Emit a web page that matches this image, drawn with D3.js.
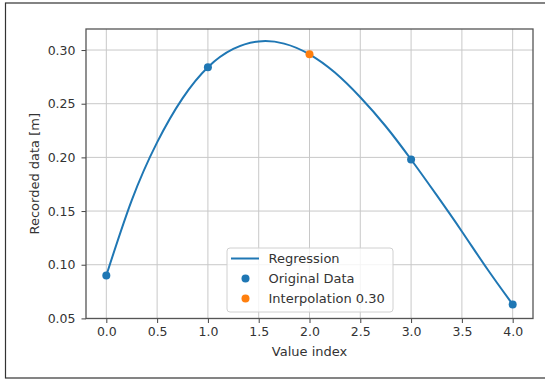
<!DOCTYPE html>
<html>
<head>
<meta charset="utf-8">
<script src="https://cdn.jsdelivr.net/npm/d3@7"></script>
<style>
  html, body { margin: 0; padding: 0; background: #fff; }
  svg { display: block; }
  text { font-family: "DejaVu Sans", sans-serif; }
</style>
</head>
<body>
<script>
// ---- data ----
const originalX = [0, 1, 3, 4];
const originalY = [0.090, 0.284, 0.198, 0.063];
const interpX = [2];
const interpY = [0.296];
const regressionX = [0, 0.25, 0.5, 0.75, 1.0, 1.25, 1.5, 1.75, 2.0, 2.25, 2.5, 2.75, 3.0, 3.25, 3.5, 3.75, 4.0];
const regressionY = [0.090, 0.160, 0.214, 0.255, 0.284, 0.301, 0.308, 0.306, 0.296, 0.279, 0.256, 0.229, 0.198, 0.165, 0.131, 0.096, 0.063];
const xTicks = [0, 0.5, 1, 1.5, 2, 2.5, 3, 3.5, 4];
const yTicks = [0.05, 0.10, 0.15, 0.20, 0.25, 0.30];
const legendLabels = ["Regression", "Original Data", "Interpolation 0.30"];
const xLabel = "Value index";
const yLabel = "Recorded data [m]";

const W = 545, H = 379;
const blue = "#1f77b4", orange = "#ff7f0e";
const plot = { left: 86, right: 533, top: 29, bottom: 318.5 };

const svg = d3.select("body").append("svg").attr("width", W).attr("height", H);

// outer frame
svg.append("rect").attr("x", 5.5).attr("y", 3).attr("width", 560).attr("height", 375)
  .attr("fill", "#fff").attr("stroke", "#333").attr("stroke-width", 1.2);

const x = d3.scaleLinear().domain([-0.2, 4.2]).range([plot.left, plot.right]);
const y = d3.scaleLinear().domain([0.0499, 0.3196]).range([plot.bottom, plot.top]);

// grid
const grid = svg.append("g");
grid.selectAll("line.gx").data(xTicks).join("line")
  .attr("x1", d => x(d)).attr("x2", d => x(d)).attr("y1", plot.top).attr("y2", plot.bottom)
  .attr("stroke", "#c8c8c8").attr("stroke-width", 1);
grid.selectAll("line.gy").data(yTicks).join("line")
  .attr("y1", d => y(d)).attr("y2", d => y(d)).attr("x1", plot.left).attr("x2", plot.right)
  .attr("stroke", "#c8c8c8").attr("stroke-width", 1);

// axes
const xAxis = d3.axisBottom(x).tickValues(xTicks).tickFormat(d3.format(".1f")).tickSize(4.5).tickPadding(4.5);
const yAxis = d3.axisLeft(y).tickValues(yTicks).tickFormat(d3.format(".2f")).tickSize(4.5).tickPadding(6);
const gx = svg.append("g").attr("transform", `translate(0,${plot.bottom})`).call(xAxis);
const gy = svg.append("g").attr("transform", `translate(${plot.left},0)`).call(yAxis);
[gx, gy].forEach(g => {
  g.select(".domain").remove();
  g.selectAll(".tick line").attr("stroke", "#444").attr("stroke-width", 1);
  g.selectAll(".tick text").attr("fill", "#333").style("font-size", "12.5px").style("font-family", "DejaVu Sans, sans-serif");
});

// regression line
const line = d3.line().x(d => x(d[0])).y(d => y(d[1])).curve(d3.curveNatural);
svg.append("path").datum(d3.zip(regressionX, regressionY))
  .attr("d", line).attr("fill", "none").attr("stroke", blue).attr("stroke-width", 2);

// points
svg.append("g").selectAll("circle").data(d3.zip(originalX, originalY)).join("circle")
  .attr("cx", d => x(d[0])).attr("cy", d => y(d[1])).attr("r", 4).attr("fill", blue);
svg.append("g").selectAll("circle").data(d3.zip(interpX, interpY)).join("circle")
  .attr("cx", d => x(d[0])).attr("cy", d => y(d[1])).attr("r", 4).attr("fill", orange);

// spines
svg.append("rect").attr("x", plot.left).attr("y", plot.top)
  .attr("width", plot.right - plot.left).attr("height", plot.bottom - plot.top)
  .attr("fill", "none").attr("stroke", "#555").attr("stroke-width", 1.3);

// axis labels
svg.append("text").attr("x", (plot.left + plot.right) / 2).attr("y", 356)
  .attr("text-anchor", "middle").attr("fill", "#333").style("font-size", "13px").text(xLabel);
svg.append("text").attr("transform", `translate(34,${(plot.top + plot.bottom) / 2}) rotate(-90)`)
  .attr("text-anchor", "middle").attr("dy", "0.35em").attr("fill", "#333").style("font-size", "13px").text(yLabel);

// legend
const lg = svg.append("g");
lg.append("rect").attr("x", 227).attr("y", 248).attr("width", 166).attr("height", 64)
  .attr("rx", 3).attr("fill", "#fff").attr("fill-opacity", 0.8)
  .attr("stroke", "#d0d0d0").attr("stroke-width", 1);
const rowY = [258.5, 278.5, 298.5];
lg.append("line").attr("x1", 231).attr("x2", 259).attr("y1", rowY[0]).attr("y2", rowY[0])
  .attr("stroke", blue).attr("stroke-width", 2);
lg.append("circle").attr("cx", 245.5).attr("cy", rowY[1]).attr("r", 4).attr("fill", blue);
lg.append("circle").attr("cx", 245.5).attr("cy", rowY[2]).attr("r", 4).attr("fill", orange);
lg.selectAll("text").data(legendLabels).join("text")
  .attr("x", 268.5).attr("y", (d, i) => rowY[i]).attr("dy", "0.35em")
  .attr("fill", "#333").style("font-size", "13px").text(d => d);
</script>
</body>
</html>
